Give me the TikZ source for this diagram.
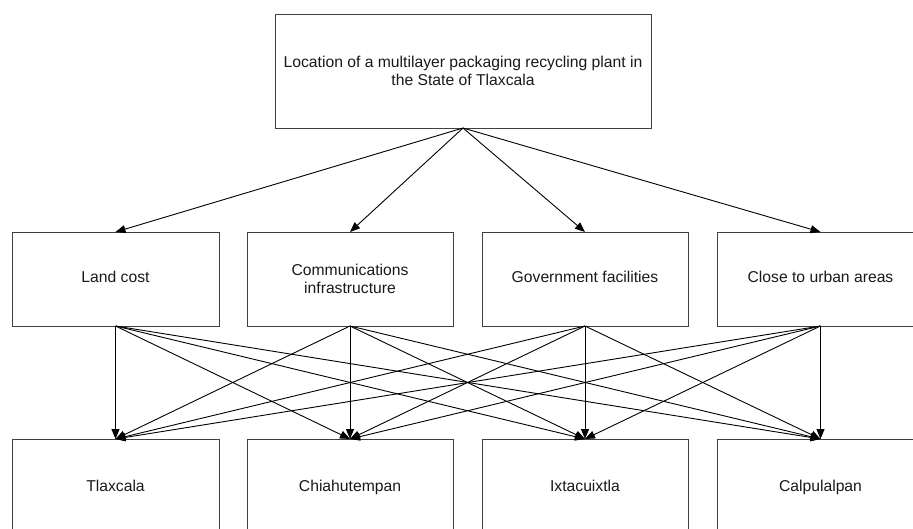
\documentclass[tikz,border=0pt]{standalone}
\usepackage{fontspec}
\setmainfont{Liberation Sans}
\usetikzlibrary{arrows.meta}
\begin{document}
\begin{tikzpicture}[x=1pt,y=-1pt,
  box/.style={draw=black!75,line width=0.9pt,rectangle,outer sep=0pt,inner sep=0pt,
    align=center,font=\fontsize{15.7}{18.5}\selectfont,text=black!90},
  midbox/.style={box,minimum width=207pt,minimum height=94pt},
  botbox/.style={box,minimum width=207pt,minimum height=96pt,text height=11.5pt,text depth=3.5pt},
  arr/.style={draw=black,line width=0.9pt,-{Triangle[length=10pt,width=8pt]}}]
\useasboundingbox (0,0) rectangle (913,529);
\clip (0,0) rectangle (913,529);
\node[box,minimum width=376pt,minimum height=114pt] (top) at (463,71)
  {Location of a multilayer packaging recycling plant in\\the State of Tlaxcala};
\node[midbox,text height=11.5pt,text depth=3.5pt] (m1) at (115.5,279) {Land cost};
\node[midbox,minimum width=206pt] (m2) at (350,279) {Communications\\infrastructure};
\node[midbox,minimum width=206pt,text height=11.5pt,text depth=3.5pt] (m3) at (585,279) {Government facilities};
\node[midbox,text height=11.5pt,text depth=3.5pt] (m4) at (820.5,279) {Close to urban areas};
\node[botbox] (b1) at (115.5,487) {Tlaxcala};
\node[botbox,minimum width=206pt] (b2) at (350,487) {Chiahutempan};
\node[botbox,minimum width=206pt] (b3) at (585,487) {Ixtacuixtla};
\node[botbox] (b4) at (820.5,487) {Calpulalpan};
\foreach \m in {m1,m2,m3,m4}{
  \draw[arr] (top.south) -- (\m.north);
}
\foreach \m in {m1,m2,m3,m4}{
  \foreach \b in {b1,b2,b3,b4}{
    \draw[arr] (\m.south) -- (\b.north);
  }
}
\end{tikzpicture}
\end{document}
